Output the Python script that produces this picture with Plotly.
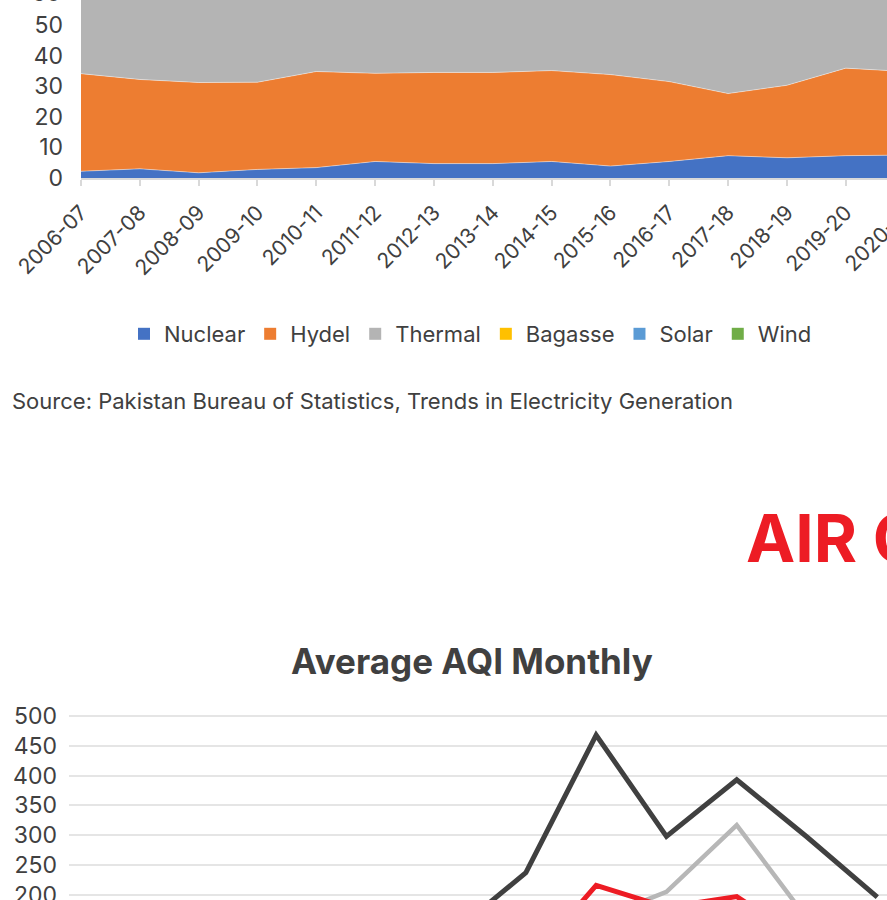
"""Electricity generation mix and monthly AQI, drawn as one tall page."""

import plotly.graph_objects as go

FONT = "Inter"
TEXT = "#404040"

# electricity generation share (%)
years = [
    "2006-07", "2007-08", "2008-09", "2009-10", "2010-11", "2011-12", "2012-13",
    "2013-14", "2014-15", "2015-16", "2016-17", "2017-18", "2018-19", "2019-20",
    "2020-21",
]
nuclear = [2.2, 3.0, 1.7, 2.8, 3.4, 5.4, 4.7, 4.7, 5.4, 3.9, 5.4, 7.3, 6.6, 7.3, 7.5]
hydel = [31.9, 29.2, 29.5, 28.5, 31.4, 28.8, 29.8, 29.8, 29.7, 29.9, 26.1, 20.3,
         23.7, 28.6, 27.3]
thermal = [65.9, 67.8, 68.8, 68.7, 65.2, 65.8, 65.4, 65.1, 64.1, 64.6, 65.9, 68.8,
           66.0, 60.4, 61.7]
bagasse = [0, 0, 0, 0, 0, 0, 0, 0, 0, 0.3, 0.6, 1.0, 0.9, 0.8, 0.8]
solar = [0, 0, 0, 0, 0, 0, 0, 0, 0.1, 0.4, 0.6, 0.6, 0.6, 0.6, 0.6]
wind = [0, 0, 0, 0, 0, 0, 0.1, 0.4, 0.7, 0.9, 1.4, 2.0, 2.2, 2.3, 2.1]
share_ticks = [0, 10, 20, 30, 40, 50]

# average AQI by month
months = ["Apr", "May", "Jun", "Jul", "Aug", "Sep", "Oct", "Nov", "Dec", "Jan",
          "Feb", "Mar"]
aqi_dark = [120, 95, 80, 85, 110, 140, 237, 468, 298, 393, 297, 196]
aqi_grey = [110, 90, 75, 80, 95, 120, 140, 158, 205, 317, 160, 140]
aqi_red = [100, 85, 70, 75, 90, 100, 80, 216, 179, 197, 120, 110]
aqi_ticks = [200, 250, 300, 350, 400, 450, 500]

# the page is wider than the window; the window crops it at 887 px
W, H = 960, 900


def px_x(x):
    return x / W


def px_y(y):
    return (H - y) / H


fig = go.Figure()

# stacked areas (top chart)
areas = [
    ("Nuclear", nuclear, "#4472c4"),
    ("Hydel", hydel, "#ed7d31"),
    ("Thermal", thermal, "#b4b4b4"),
    ("Bagasse", bagasse, "#ffc000"),
    ("Solar", solar, "#5b9bd5"),
    ("Wind", wind, "#70ad47"),
]
xi = list(range(len(years)))
for name, vals, color in areas:
    fig.add_trace(
        go.Scatter(
            x=xi, y=vals, name=name, stackgroup="one", mode="lines",
            line={"width": 0.8, "color": "rgba(255,255,255,0.55)"},
            fillcolor=color, showlegend=False, xaxis="x", yaxis="y",
        )
    )
    # legend swatch
    fig.add_trace(
        go.Scatter(
            x=[None], y=[None], name=name, mode="markers",
            marker={"symbol": "square", "size": 12, "color": color},
            xaxis="x", yaxis="y",
        )
    )

# AQI lines (bottom chart)
mi = list(range(len(months)))
for name, vals, color, width in [
    ("Series 3", aqi_grey, "#b7b7b7", 4.5),
    ("Series 2", aqi_red, "#ed1c24", 5),
    ("Series 1", aqi_dark, "#404040", 5),
]:
    fig.add_trace(
        go.Scatter(
            x=mi, y=vals, name=name, mode="lines",
            line={"color": color, "width": width},
            showlegend=False, xaxis="x2", yaxis="y2",
        )
    )

fig.update_layout(
    width=W,
    height=H,
    margin={"l": 0, "r": 0, "t": 0, "b": 0},
    paper_bgcolor="white",
    plot_bgcolor="white",
    font={"family": FONT, "color": TEXT, "size": 22},
    xaxis={
        "domain": [px_x(81), 1],
        "anchor": "y",
        "range": [0, (W - 81) / 58.83],
        "tickmode": "array",
        "tickvals": xi,
        "ticktext": years,
        "tickangle": -45,
        "tickfont": {"size": 21, "color": TEXT},
        "ticklabelstandoff": 6,
        "ticks": "outside",
        "ticklen": 6,
        "tickwidth": 2,
        "tickcolor": "#d9d9d9",
        "showline": True,
        "linecolor": "#d9d9d9",
        "linewidth": 2,
        "showgrid": False,
        "zeroline": False,
        "automargin": False,
    },
    yaxis={
        "domain": [px_y(178), 1],
        "anchor": "x",
        "range": [0, 178 / 3.06],
        "tickvals": share_ticks,
        "tickfont": {"size": 23, "color": TEXT},
        "ticklabelstandoff": 17,
        "ticklabeloverflow": "allow",
        "showgrid": False,
        "zeroline": False,
        "showline": False,
        "automargin": False,
    },
    xaxis2={
        "domain": [px_x(69), 1],
        "anchor": "y2",
        "range": [-0.5, (W - 104) / 70.3],
        "tickvals": mi,
        "ticktext": months,
        "showticklabels": False,
        "showgrid": False,
        "zeroline": False,
        "automargin": False,
    },
    yaxis2={
        "domain": [0, px_y(714.2)],
        "anchor": "x2",
        "range": [191.3, 503],
        "tickvals": aqi_ticks,
        "tickfont": {"size": 23, "color": TEXT},
        "ticklabelstandoff": 11,
        "ticklabeloverflow": "allow",
        "showgrid": True,
        "gridcolor": "#e5e5e5",
        "gridwidth": 2,
        "zeroline": False,
        "showline": False,
        "automargin": False,
    },
    legend={
        "orientation": "h",
        "traceorder": "normal",
        "x": px_x(124),
        "xanchor": "left",
        "y": px_y(334),
        "yanchor": "middle",
        "font": {"size": 22, "color": TEXT},
        "bgcolor": "rgba(0,0,0,0)",
    },
    annotations=[
        {
            # top tick of the share axis, cut by the page edge
            "text": "60",
            "x": px_x(63), "xref": "paper", "xanchor": "right",
            "y": px_y(-7), "yref": "paper", "yanchor": "middle",
            "showarrow": False, "font": {"size": 23, "color": TEXT},
        },
        {
            "text": "Source: Pakistan Bureau of Statistics, Trends in Electricity Generation",
            "x": px_x(10), "xref": "paper", "xanchor": "left",
            "y": px_y(401), "yref": "paper", "yanchor": "middle",
            "showarrow": False, "font": {"size": 22, "color": TEXT},
        },
        {
            "text": "<b>AIR QUALITY</b>",
            "x": px_x(744), "xref": "paper", "xanchor": "left",
            "y": px_y(538), "yref": "paper", "yanchor": "middle",
            "showarrow": False, "font": {"size": 66, "color": "#ed1c24"},
        },
        {
            "text": "<b>Average AQI Monthly</b>",
            "x": px_x(472), "xref": "paper", "xanchor": "center",
            "y": px_y(661), "yref": "paper", "yanchor": "middle",
            "showarrow": False, "font": {"size": 35, "color": TEXT},
        },
    ],
)

# drop the default body margin and hide scrollbars so the page is cropped cleanly
fig.write_html(
    "out.html",
    config={"displayModeBar": False},
    post_script=(
        "document.body.style.margin = '0';"
        "document.body.style.overflow = 'hidden';"
        "document.documentElement.style.overflow = 'hidden';"
    ),
)
